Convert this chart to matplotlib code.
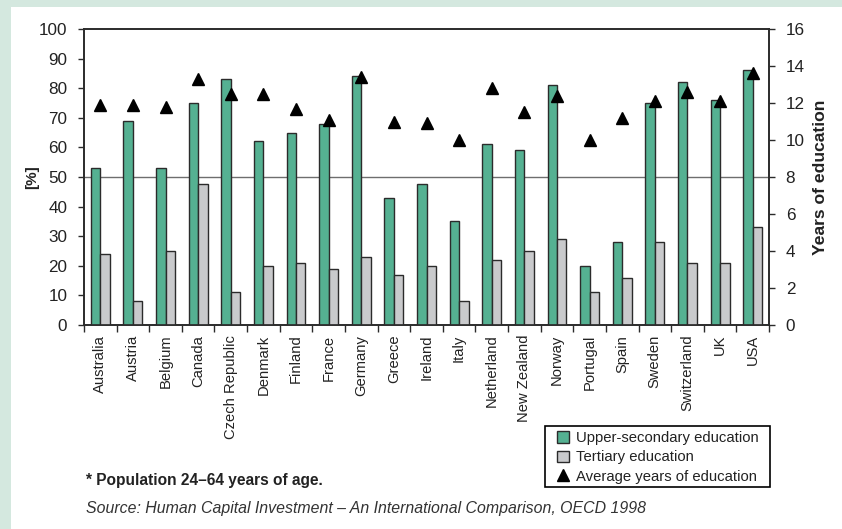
import matplotlib
matplotlib.use("Agg")
import matplotlib.pyplot as plt
import numpy as np
from matplotlib.patches import Rectangle
from matplotlib.lines import Line2D

plt.rcParams['font.family'] = ['Liberation Sans', 'DejaVu Sans']

countries = ["Australia", "Austria", "Belgium", "Canada", "Czech Republic", "Denmark",
             "Finland", "France", "Germany", "Greece", "Ireland", "Italy", "Netherland",
             "New Zealand", "Norway", "Portugal", "Spain", "Sweden", "Switzerland", "UK", "USA"]
upper_secondary = [53, 69, 53, 75, 83, 62, 65, 68, 84, 43, 47.5, 35, 61, 59, 81, 20, 28, 75, 82, 76, 86]
tertiary = [24, 8, 25, 47.5, 11, 20, 21, 19, 23, 17, 20, 8, 22, 25, 29, 11, 16, 28, 21, 21, 33]
avg_years = [11.9, 11.9, 11.8, 13.3, 12.5, 12.5, 11.7, 11.1, 13.4, 11.0, 10.9, 10.0, 12.8,
             11.5, 12.4, 10.0, 11.2, 12.1, 12.6, 12.1, 13.6]

GREEN = "#55b192"
GRAY = "#c9cacc"
EDGE = "#2b2b2b"
TXT = "#222222"
W, H = 842, 529

fig = plt.figure(figsize=(W / 100, H / 100), dpi=100)
fig.patch.set_facecolor("white")
# mint frame strips on the left and top
fig.add_artist(Rectangle((0, 0), 11 / W, 1, transform=fig.transFigure,
                         facecolor="#d4e8df", edgecolor="none", zorder=-5))
fig.add_artist(Rectangle((0, 1 - 7 / H), 1, 7 / H, transform=fig.transFigure,
                         facecolor="#d4e8df", edgecolor="none", zorder=-5))

ax = fig.add_axes([84 / W, 1 - 325 / H, (769 - 84) / W, (325 - 29) / H])
ax2 = ax.twinx()

n = len(countries)
x = np.arange(n)
w = 0.29
ax.bar(x - w / 2, upper_secondary, width=w, color=GREEN, edgecolor=EDGE, linewidth=1.0, zorder=3)
ax.bar(x + w / 2, tertiary, width=w, color=GRAY, edgecolor=EDGE, linewidth=1.0, zorder=3)
ax.axhline(50, color="#6e6e6e", linewidth=1.0, zorder=2)

ax2.plot(x, avg_years, linestyle="none", marker="^", markersize=8, color="black", zorder=5)

ax.set_xlim(-0.5, n - 0.5)
ax.set_ylim(0, 100)
ax2.set_ylim(0, 16)
ax.set_yticks(np.arange(0, 101, 10))
ax2.set_yticks(np.arange(0, 17, 2))

ax.set_xticks(x)
ax.set_xticklabels(countries, rotation=90, fontsize=10.6, color=TXT)
ax.set_xticks(np.arange(-0.5, n, 1), minor=True)
ax.tick_params(axis="x", which="major", length=0, pad=7)
ax.tick_params(axis="x", which="minor", length=5, width=1, color=EDGE, direction="out")
ax.tick_params(axis="y", length=4, width=1, color=EDGE, labelsize=12.3, labelcolor=TXT, pad=8)
ax2.tick_params(axis="y", length=4, width=1, color=EDGE, labelsize=12.3, labelcolor=TXT, pad=8)

for a in (ax, ax2):
    for s in a.spines.values():
        s.set_color(EDGE)
        s.set_linewidth(1.2)

ax.set_ylabel("[%]", fontsize=11, fontweight="bold", color=TXT, labelpad=0)
ax2.set_ylabel("Years of education", fontsize=12.6, fontweight="bold", color=TXT, labelpad=6)

# legend entries, with a hand-placed frame around them
handles = [
    Rectangle((0, 0), 1, 1, facecolor=GREEN, edgecolor=EDGE, linewidth=1.0),
    Rectangle((0, 0), 1, 1, facecolor=GRAY, edgecolor=EDGE, linewidth=1.0),
    Line2D([], [], linestyle="none", marker="^", markersize=8.5, color="black"),
]
labels = ["Upper-secondary education", "Tertiary education", "Average years of education"]
leg = fig.legend(handles, labels, loc="upper left",
                 bbox_to_anchor=(557 / W, 1 - 431 / H),
                 frameon=False, fontsize=10.7, handlelength=0.8,
                 handleheight=0.8, handletextpad=0.5, labelspacing=0.36,
                 borderpad=0, borderaxespad=0)
for t in leg.get_texts():
    t.set_color(TXT)
fig.add_artist(Rectangle((545 / W, 1 - 487 / H), (770 - 545) / W, (487 - 426) / H,
                         transform=fig.transFigure, facecolor="white",
                         edgecolor="black", linewidth=1.2, zorder=1))

fig.text(86 / W, 1 - 481 / H, "* Population 24\u201364 years of age.", fontsize=11.2,
         fontweight="bold", color=TXT, va="center", ha="left")
fig.text(86 / W, 1 - 508 / H,
         "Source: Human Capital Investment \u2013 An International Comparison, OECD 1998",
         fontsize=11.4, style="italic", color="#333333", va="center", ha="left")

fig.savefig("out.png", dpi=100)
